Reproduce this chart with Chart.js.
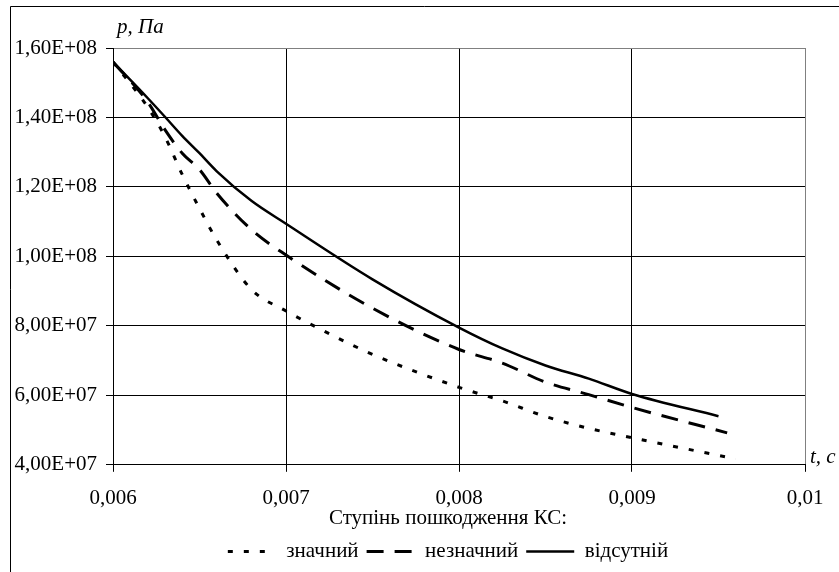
<!DOCTYPE html>
<html>
<head>
<meta charset="utf-8">
<script src="https://cdn.jsdelivr.net/npm/chart.js@4"></script>
<style>
  body { margin: 0; background: #fff; }
  #wrap { width: 839px; height: 572px; }
</style>
</head>
<body>
<div id="wrap"><canvas id="myChart" width="839" height="572"></canvas></div>
<script>
// Дані (t, с ; p, Па)
const tZnachnyi = [0.006, 0.0062, 0.0063, 0.0064, 0.0065, 0.0066, 0.0068, 0.007, 0.0072, 0.0075, 0.008, 0.00825, 0.0085, 0.00875, 0.009, 0.0096];
const pZnachnyi = [15.6e7, 14.3e7, 13.45e7, 12.36e7, 11.38e7, 10.47e7, 9.05e7, 8.43e7, 7.9e7, 7.18e7, 6.23e7, 5.84e7, 5.39e7, 5.05e7, 4.78e7, 4.17e7];

const tNeznachnyi = [0.006, 0.0062, 0.0063, 0.0064, 0.0065, 0.0066, 0.0068, 0.007, 0.0075, 0.008, 0.00825, 0.0085, 0.00875, 0.009, 0.00955];
const pNeznachnyi = [15.6e7, 14.45e7, 13.65e7, 12.97e7, 12.5e7, 11.82e7, 10.77e7, 10.04e7, 8.51e7, 7.32e7, 6.93e7, 6.38e7, 6.02e7, 5.65e7, 4.92e7];

const tVidsutnii = [0.006, 0.0062, 0.0063, 0.0064, 0.0065, 0.0066, 0.0068, 0.007, 0.0075, 0.008, 0.00825, 0.0085, 0.00875, 0.009, 0.0095];
const pVidsutnii = [15.6e7, 14.56e7, 14.02e7, 13.47e7, 12.97e7, 12.45e7, 11.6e7, 10.94e7, 9.34e7, 7.95e7, 7.35e7, 6.86e7, 6.48e7, 6.04e7, 5.4e7];

const seriesNames = ["значний", "незначний", "відсутній"];
const legendTitle = "Ступінь пошкодження КС:";
const yTitle = "p, Па";
const xTitle = "t, с";

//склеюю пари (t, p)
const toPoints = (ts, ps) => ts.map((t, i) => ({ x: t, y: ps[i] }));

//формат 1,60E+08
const fmtExp = (v) => {
    let [m, e] = v.toExponential(2).split("e");
    let sign = e[0];
    let num = e.slice(1).padStart(2, "0");
    return m.replace(".", ",") + "E" + sign + num;
};
const fmtX = (v) => parseFloat(v.toFixed(4)).toString().replace(".", ",");

Chart.defaults.font.family = "'Liberation Serif', 'Times New Roman', serif";
Chart.defaults.font.size = 21;
Chart.defaults.color = "#000";

//рамка, підписи осей, зсув легенди
const extras = {
    id: "extras",
    afterLayout(chart) {
        // легенда в оригіналі центрована трохи лівіше за область графіка
        if (chart.legend) chart.legend.left = 57;
    },
    beforeDraw(chart) {
        const ctx = chart.ctx;
        ctx.save();
        ctx.strokeStyle = "#000";
        ctx.lineWidth = 1;
        ctx.beginPath();
        ctx.moveTo(10.5, 572);
        ctx.lineTo(10.5, 6.5);
        ctx.lineTo(839, 6.5);
        ctx.stroke();
        ctx.restore();
    },
    afterDraw(chart) {
        const ctx = chart.ctx;
        const a = chart.chartArea;
        ctx.save();
        ctx.fillStyle = "#000";
        ctx.font = "italic 21px 'Liberation Serif', serif";
        ctx.textBaseline = "alphabetic";
        ctx.textAlign = "left";
        ctx.fillText(yTitle, a.left + 4, a.top - 15);
        ctx.fillText(xTitle, a.right + 5, a.bottom - 2);
        ctx.restore();
    }
};

const lineBase = {
    fill: false,
    pointRadius: 0,
    pointStyle: "line",
    cubicInterpolationMode: "monotone",
    borderColor: "#000",
    backgroundColor: "#000",
    borderCapStyle: "butt"
};

const data = {
    datasets: [
        { ...lineBase, label: seriesNames[0], data: toPoints(tZnachnyi, pZnachnyi), borderWidth: 3, borderDash: [5, 11] },
        { ...lineBase, label: seriesNames[1], data: toPoints(tNeznachnyi, pNeznachnyi), borderWidth: 3, borderDash: [17, 11] },
        { ...lineBase, label: seriesNames[2], data: toPoints(tVidsutnii, pVidsutnii), borderWidth: 2.5, borderDash: [] }
    ]
};

//легенда з пунктиром як у лініях
const makeLabels = (chart) => {
    const items = Chart.defaults.plugins.legend.labels.generateLabels(chart);
    return items.map((it) => {
        const ds = chart.data.datasets[it.datasetIndex];
        it.lineDash = ds.borderDash;
        it.lineWidth = ds.borderWidth;
        it.strokeStyle = "#000";
        it.lineCap = "butt";
        return it;
    });
};

const config = {
    type: "scatter",
    data,
    options: {
        responsive: false,
        animation: false,
        showLine: true,
        layout: { padding: { left: 0, right: 0, top: 48, bottom: 0 } },
        plugins: {
            tooltip: { enabled: false },
            legend: {
                position: "bottom",
                title: { display: true, text: legendTitle, padding: 0, font: { size: 21 } },
                labels: {
                    usePointStyle: true,
                    pointStyle: "line",
                    pointStyleWidth: 48,
                    boxWidth: 48,
                    padding: 8,
                    color: "#000",
                    generateLabels: makeLabels
                }
            }
        },
        scales: {
            x: {
                type: "linear",
                min: 0.006,
                max: 0.01,
                ticks: { stepSize: 0.001, padding: 14, callback: (v) => fmtX(v), maxRotation: 0 },
                grid: {
                    color: (c) => (c.tick && Math.abs(c.tick.value - 0.01) < 1e-9 ? "#808080" : "#000"),
                    tickColor: "#000",
                    tickLength: 7
                },
                border: { color: "#000" },
                afterFit: (s) => { s.height = 43; }
            },
            y: {
                min: 4e7,
                max: 1.6e8,
                ticks: { stepSize: 2e7, padding: 9, callback: (v) => fmtExp(v) },
                grid: {
                    color: (c) => (c.tick && c.tick.value >= 1.6e8 ? "#808080" : "#000"),
                    tickColor: "#000",
                    tickLength: 7
                },
                border: { color: "#000" },
                afterFit: (s) => { s.width = 113; }
            },
            y2: {
                position: "right",
                display: true,
                ticks: { display: false },
                grid: { display: false, drawTicks: false },
                border: { display: false },
                afterFit: (s) => { s.width = 34; }
            }
        }
    },
    plugins: [extras]
};

const myChart = document.getElementById("myChart");
new Chart(myChart, config);
</script>
</body>
</html>
